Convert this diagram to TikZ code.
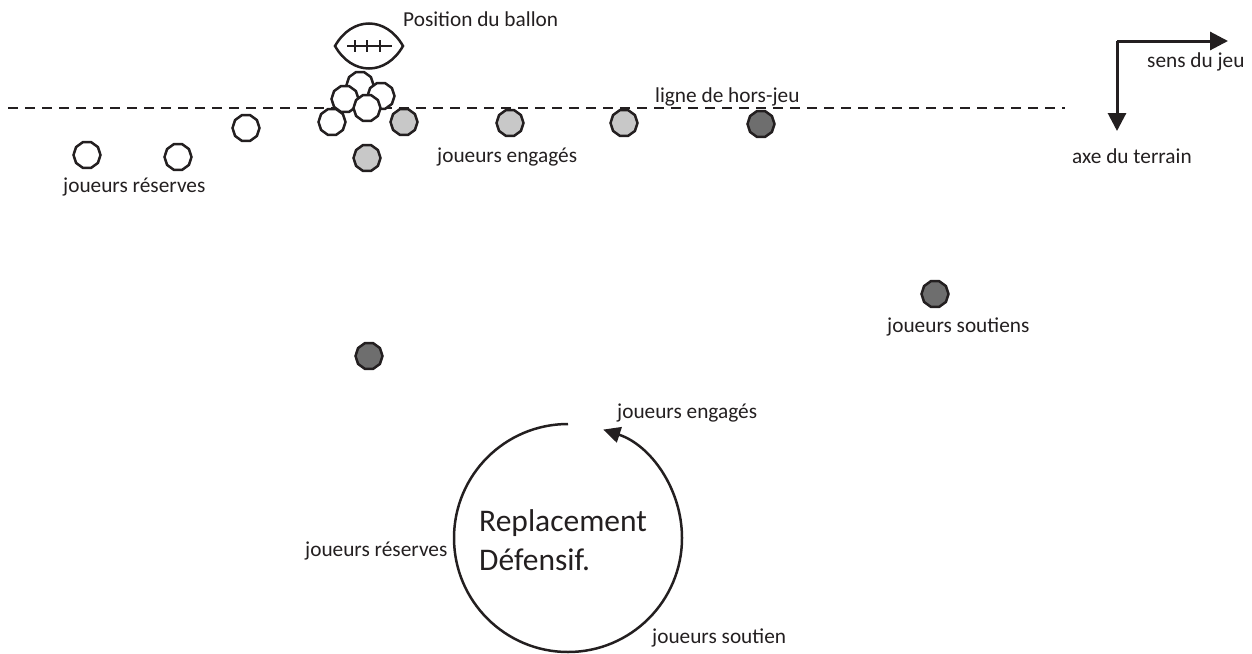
\documentclass[tikz,border=0pt]{standalone}
\usepackage{fontspec}
\setmainfont{Carlito}
\usetikzlibrary{shapes.geometric,arrows.meta}
\definecolor{ink}{HTML}{231F20}
\definecolor{engage}{HTML}{C8C8C8}
\definecolor{soutien}{HTML}{6E6E6E}
\begin{document}
\begin{tikzpicture}[x=1pt,y=-1pt,
  player/.style={regular polygon,regular polygon sides=10,minimum size=27pt,inner sep=0pt,draw=ink,line width=2.5pt},
  reserve/.style={player,fill=white},
  engaged/.style={player,fill=engage},
  support/.style={player,fill=soutien},
  lbl/.style={font=\fontsize{21.3}{25}\selectfont,text=ink,inner sep=0pt},
  axis/.style={draw=ink,line width=3pt,-{Triangle[length=18pt,width=18pt]}}]
\useasboundingbox (0,0) rectangle (1252,653);
% offside line
\coordinate (hl) at (8,108);
\coordinate (hr) at (1065,108);
\draw[ink,line width=2.5pt,dash pattern=on 10pt off 7pt] (hl) -- (hr);
% football
\draw[ink,line width=2.5pt,fill=white] (335,46) .. controls (352,16) and (386,16) .. (403,46) .. controls (386,76) and (352,76) .. cycle;
\draw[ink,line width=2pt] (347,46) -- (392,46)
  (355,40) -- (355,52) (367,40) -- (367,52) (380,40) -- (380,52);
% players
\node[reserve] (r1) at (87,155) {};
\node[reserve] (r2) at (178,157) {};
\node[reserve] (r3) at (246,128) {};
\node[reserve] (c1) at (360,85) {};
\node[reserve] (c2) at (345,99) {};
\node[reserve] (c3) at (381,96) {};
\node[reserve] (c4) at (367,108) {};
\node[reserve] (c5) at (332,122) {};
\node[engaged] (e1) at (404,122) {};
\node[engaged] (e2) at (367,158) {};
\node[engaged] (e3) at (510,123) {};
\node[engaged] (e4) at (624,123) {};
\node[support] (s1) at (761,124) {};
\node[support] (s2) at (369,356) {};
\node[support] (s3) at (935,294) {};
% labels
\node[lbl,anchor=west] (tball) at (403,19) {Position du ballon};
\node[lbl,anchor=west] (tline) at (655,97) {ligne de hors-jeu};
\node[lbl,anchor=west] (teng) at (437,157) {joueurs engagés};
\node[lbl,anchor=west] (tres) at (63,187) {joueurs réserves};
\node[lbl,anchor=west] (tsou) at (887,327) {joueurs soutiens};
% direction axes
\coordinate (corner) at (1117,41);
\coordinate (sens) at (1228,41);
\coordinate (axe) at (1117,131);
\draw[axis] (corner) -- (sens);
\draw[axis] (corner) -- (axe);
\node[lbl,anchor=west] (tsens) at (1147,62) {sens du jeu};
\node[lbl,anchor=west] (taxe) at (1072,156) {axe du terrain};
% cycle
\coordinate (ctop) at (568,424);
\draw[ink,line width=2.5pt,-{Triangle[length=17pt,width=16pt]}] (ctop) arc[start angle=270,end angle=-72,radius=114];
\node[font=\fontsize{31.5}{37}\selectfont,text=ink,align=left,anchor=west,inner sep=0pt] (trep) at (479,540) {Replacement\\[2pt]Défensif.};
\node[lbl,anchor=west] (tceng) at (617,413) {joueurs engagés};
\node[lbl,anchor=west] (tcres) at (305,551) {joueurs réserves};
\node[lbl,anchor=west] (tcsou) at (652,638) {joueurs soutien};
\end{tikzpicture}
\end{document}
